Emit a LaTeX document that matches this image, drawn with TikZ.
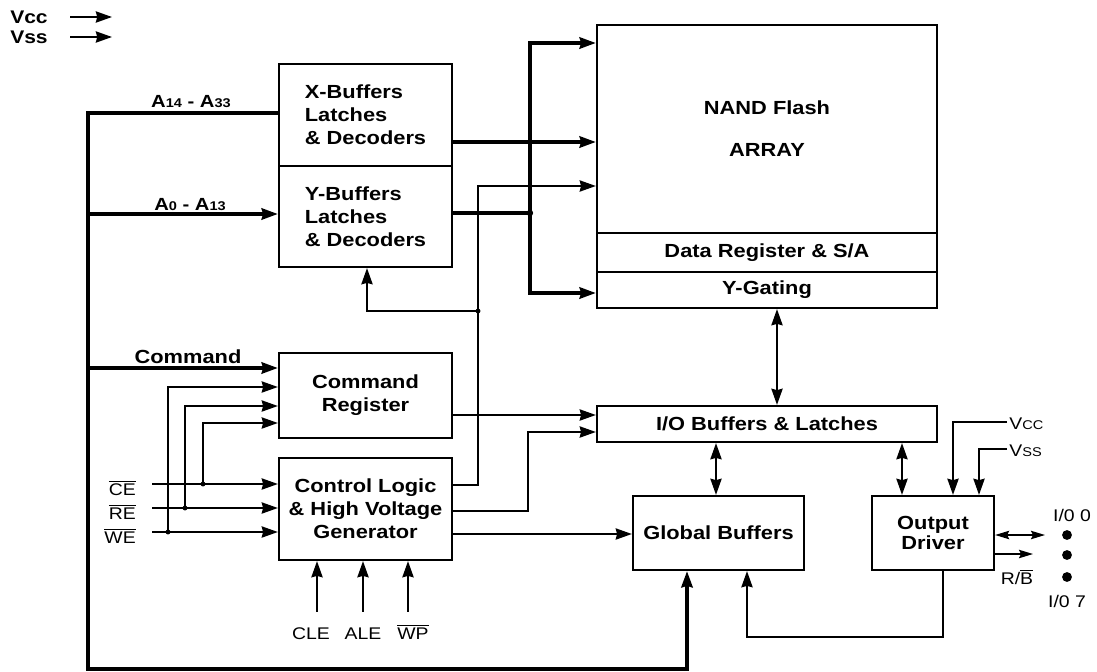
\documentclass[tikz,border=0pt]{standalone}
\usepackage{fontspec}
\setmainfont{Liberation Sans}[FakeStretch=1.15]
\usepackage{tikz}
\usetikzlibrary{arrows.meta,calc}

\newcommand{\ovl}[1]{$\overline{\hbox{#1}}$}
\newcommand{\sml}[1]{{\fontsize{9}{10}\selectfont #1}}

\begin{document}
\begin{tikzpicture}[x=0.025cm,y=-0.025cm,
  >={Stealth[length=11.5pt,width=8pt,inset=1pt]},
  block/.style={draw,line width=1.6pt,inner sep=0pt,align=center,
    font=\fontsize{13.5}{16.5}\selectfont\bfseries},
  bus/.style={line width=2.4pt},
  sig/.style={line width=1.3pt},
  fine/.style={line width=1pt,>={Stealth[length=10pt,width=6pt,inset=1.5pt]}},
  buslabel/.style={inner sep=0pt,font=\fontsize{12.5}{13}\selectfont\bfseries},
  pinlabel/.style={inner sep=0pt,font=\fontsize{12}{13}\selectfont},
  dot/.style={circle,fill,inner sep=0pt,minimum size=3.5pt},
  iodot/.style={circle,fill,inner sep=0pt,minimum size=7pt}]

  \useasboundingbox (0,0) rectangle (1097,671);

  % blocks
  \node[block,align=left,minimum width=4.325cm,minimum height=2.55cm] (xbuf) at (365.5,115) {X-Buffers\\Latches\\\& Decoders};
  \node[block,align=left,minimum width=4.325cm,minimum height=2.525cm] (ybuf) at (365.5,216.5) {Y-Buffers\\Latches\\\& Decoders};
  \node[block,minimum width=8.5cm,minimum height=5.2cm] (array) at (767,129) {NAND Flash\\[13.4pt]ARRAY};
  \node[block,minimum width=8.5cm,minimum height=0.975cm] (datareg) at (767,252.5) {Data Register \& S/A};
  \node[block,minimum width=8.5cm,minimum height=0.9cm] (ygate) at (767,290) {Y-Gating};
  \node[block,minimum width=8.5cm,minimum height=0.9cm] (iobuf) at (767,424) {I/O Buffers \& Latches};
  \node[block,minimum width=4.325cm,minimum height=2.125cm] (cmdreg) at (365.5,395.5) {Command\\Register};
  \node[block,minimum width=4.325cm,minimum height=2.55cm] (ctrl) at (365.5,509) {Control Logic\\\& High Voltage\\Generator};
  \node[block,minimum width=4.275cm,minimum height=1.85cm] (glob) at (718.5,533) {Global Buffers};
  \node[block,minimum width=3.05cm,minimum height=1.85cm,font=\fontsize{13.5}{14.5}\selectfont\bfseries] (outdrv) at (933,533) {Output\\Driver};

  % supply
  \node[buslabel,anchor=west,font=\fontsize{13}{14}\selectfont\bfseries] (vccL) at (10,17) {Vcc};
  \node[buslabel,anchor=west,font=\fontsize{13}{14}\selectfont\bfseries] (vssL) at (10,37) {Vss};
  \draw[sig,->] (vccL.east -| 70,0) -- (vccL.east -| 112,0);
  \draw[sig,->] (vssL.east -| 70,0) -- (vssL.east -| 112,0);

  % address bus
  \coordinate (busTop) at (88,113);
  \coordinate (busBot) at (88,669);
  \draw[bus,->] (xbuf.west |- busTop) -- (busTop) -- (busBot) -| (glob.south -| 687,0);
  \draw[bus,->] (busTop |- 0,214) -- (ybuf.west |- 0,214);
  \draw[bus,->] (busTop |- 0,368) -- (cmdreg.west |- 0,368);
  \node[buslabel] (aHi) at (191,102) {A\sml{14} - A\sml{33}};
  \node[buslabel] (aLo) at (190,205) {A\sml{0} - A\sml{13}};
  \node[buslabel,font=\fontsize{13.5}{14}\selectfont\bfseries] (cmdLbl) at (188,357) {Command};

  % decoders to array
  \draw[bus,->] (xbuf.east |- 0,142) -- (array.west |- 0,142);
  \draw[bus] (ybuf.east |- 0,213) -- (530,213) node[dot,minimum size=4.5pt] {};
  \draw[bus,<->] (array.west |- 0,43) -| (530,293) -- (ygate.west |- 0,293);

  % control logic outputs
  \draw[sig,->] (ctrl.east |- 0,485) -| (478,186) -- (array.west |- 0,186);
  \draw[sig,->] (478,311) node[dot] {} -| (ybuf.south -| 367,0);
  \draw[sig,->] (cmdreg.east |- 0,415) -- (iobuf.west |- 0,415);
  \draw[sig,->] (ctrl.east |- 0,511) -| (528,432) -- (iobuf.west |- 0,432);
  \draw[sig,->] (ctrl.east |- 0,534) -- (glob.west |- 0,534);

  % chip enables
  \node[pinlabel,anchor=base east] (ce) at (136,495) {\ovl{CE}};
  \node[pinlabel,anchor=base east] (re) at (136,519) {\ovl{RE}};
  \node[pinlabel,anchor=base east] (we) at (136,543) {\ovl{WE}};
  \draw[sig,->] (152,484) coordinate (ceIn) -- (ctrl.west |- ceIn);
  \draw[sig,->] (152,508) coordinate (reIn) -- (ctrl.west |- reIn);
  \draw[sig,->] (152,532) coordinate (weIn) -- (ctrl.west |- weIn);
  \draw[sig,->] (ceIn -| 203,0) node[dot] {} |- (cmdreg.west |- 0,423);
  \draw[sig,->] (reIn -| 185,0) node[dot] {} |- (cmdreg.west |- 0,406);
  \draw[sig,->] (weIn -| 168,0) node[dot] {} |- (cmdreg.west |- 0,387);

  \node[pinlabel,anchor=base] (cle) at (311,639) {CLE};
  \node[pinlabel,anchor=base] (ale) at (363,639) {ALE};
  \node[pinlabel,anchor=base] (wp) at (413,639) {\ovl{WP}};
  \draw[sig,<-] (ctrl.south -| 317,0) -- (317,612);
  \draw[sig,<-] (ctrl.south -| 363,0) -- (363,612);
  \draw[sig,<-] (ctrl.south -| 408,0) -- (408,612);

  % data path
  \draw[sig,<->] (ygate.south -| 777,0) -- (iobuf.north -| 777,0);
  \draw[sig,<->] (iobuf.south -| 716,0) -- (glob.north -| 716,0);
  \draw[sig,<->] (iobuf.south -| 902,0) -- (outdrv.north -| 902,0);
  \draw[sig,->] (outdrv.south -| 943,0) |- (747,637) -- (glob.south -| 747,0);

  % output driver
  \node[pinlabel,anchor=west,inner xsep=1.5pt] (vccR) at (1007,424) {V\sml{CC}};
  \node[pinlabel,anchor=west,inner xsep=1.5pt] (vssR) at (1007,451) {V\sml{SS}};
  \draw[sig,->] (vccR.west |- 0,422) -| (outdrv.north -| 953,0);
  \draw[sig,->] (vssR.west |- 0,449) -| (outdrv.north -| 979,0);

  \node[iodot] (d0) at (1067,535) {};
  \node[iodot] (d1) at (1067,555) {};
  \node[iodot] (d7) at (1067,577) {};
  \node[pinlabel] (io0) at (1072,515) {I/0 0};
  \node[pinlabel] (io7) at (1067,601) {I/0 7};
  \draw[fine,<->] (outdrv.east |- d0) -- (1045,535);
  \draw[fine,->] (outdrv.east |- 0,554) -- (1033,554);
  \node[pinlabel] (rb) at (1017,577) {R/\ovl{B}};
\end{tikzpicture}
\end{document}
